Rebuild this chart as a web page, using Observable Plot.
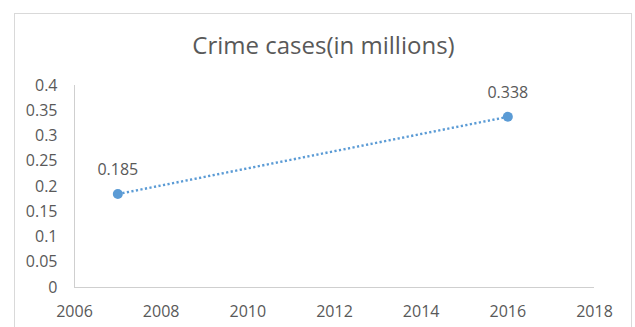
<!DOCTYPE html>
<html>
<head>
<meta charset="utf-8">
<script src="https://cdn.jsdelivr.net/npm/d3@7"></script>
<script src="https://cdn.jsdelivr.net/npm/@observablehq/plot@0.6"></script>
<style>
  html, body { margin: 0; padding: 0; background: #fff; }
  #wrap { position: relative; width: 635px; height: 327px; overflow: hidden; }
  #border { position: absolute; left: 14px; top: 13px; width: 618px; height: 330px; border: 1px solid #d9d9d9; box-sizing: border-box; }
  #chart { position: absolute; left: 0; top: 0; }
</style>
</head>
<body>
<div id="wrap"><div id="border"></div><div id="chart"></div></div>
<script>
const title = "Crime cases(in millions)";
const years = [2007, 2016];
const values = [0.185, 0.338];
const xTicks = [2006, 2008, 2010, 2012, 2014, 2016, 2018];
const yTicks = [0, 0.05, 0.1, 0.15, 0.2, 0.25, 0.3, 0.35, 0.4];

const data = years.map((year, i) => ({year, value: values[i]}));
const textColor = "#595959";
const blue = "#5B9BD5";

const chart = Plot.plot({
  width: 635,
  height: 327,
  marginLeft: 74,
  marginRight: 41,
  marginTop: 85,
  marginBottom: 40,
  style: {fontFamily: "'Open Sans', sans-serif", fontSize: "15px", color: textColor, background: "transparent"},
  x: {domain: [2006, 2018], label: null},
  y: {domain: [0, 0.4], label: null},
  marks: [
    Plot.axisX({ticks: xTicks, tickFormat: d => String(d), tickSize: 0, tickPadding: 18, fontSize: 16, fill: textColor, label: null}),
    Plot.axisY({ticks: yTicks, tickFormat: d => String(d), tickSize: 0, tickPadding: 17, fontSize: 16, fill: textColor, label: null}),
    Plot.ruleY([0], {stroke: "#cfcfcf", strokeWidth: 1}),
    Plot.ruleX([2006], {stroke: "#cfcfcf", strokeWidth: 1}),
    Plot.line(data, {x: "year", y: "value", stroke: blue, strokeWidth: 2.4, strokeDasharray: "2.2 2.4", strokeLinecap: "butt"}),
    Plot.dot(data, {x: "year", y: "value", r: 5, fill: blue, stroke: "none"}),
    Plot.text(data, {x: "year", y: "value", text: d => String(d.value), dy: -24, fill: textColor, fontSize: 16}),
    Plot.text([title], {frameAnchor: "top", lineAnchor: "middle", dx: -11, dy: -39, fill: textColor, fontSize: 24, text: d => d})
  ]
});
document.getElementById("chart").appendChild(chart);
</script>
</body>
</html>
